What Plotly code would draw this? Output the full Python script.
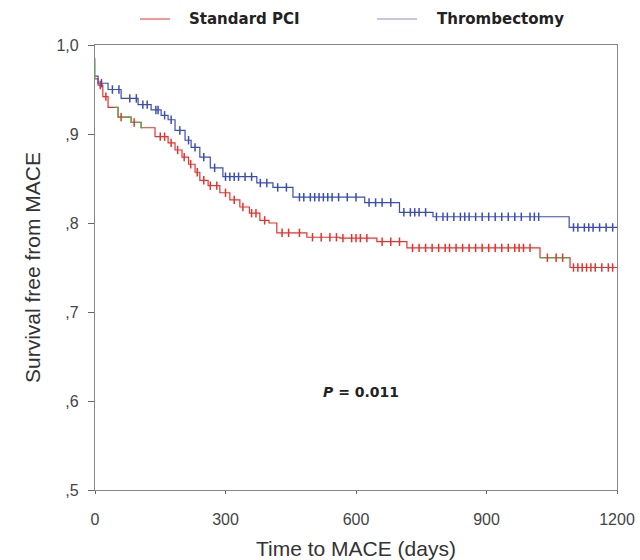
import numpy as np
import plotly.graph_objects as go

# Kaplan-Meier step data
pci_days = [0, 7, 18, 30, 53, 83, 106, 138, 168, 184, 200, 215, 230, 241, 260, 287, 310, 333, 355, 379, 400, 418, 487, 563, 648, 717, 1023, 1092, 1200]
pci_surv = [0.962, 0.955, 0.942, 0.93, 0.919, 0.913, 0.907, 0.897, 0.89, 0.882, 0.874, 0.866, 0.857, 0.848, 0.842, 0.834, 0.826, 0.818, 0.811, 0.803, 0.8, 0.789, 0.784, 0.783, 0.779, 0.772, 0.761, 0.75, 0.75]

thr_days = [0, 7, 30, 60, 99, 129, 152, 168, 184, 207, 221, 241, 265, 294, 372, 409, 455, 620, 700, 777, 1090, 1200]
thr_surv = [0.965, 0.957, 0.95, 0.94, 0.933, 0.927, 0.921, 0.916, 0.904, 0.893, 0.885, 0.874, 0.862, 0.852, 0.845, 0.84, 0.829, 0.823, 0.812, 0.807, 0.795, 0.795]

# censored observations (days)
pci_cens = [12, 25, 60, 90, 150, 160, 175, 190, 205, 220, 235, 250, 265, 280, 300, 320, 340, 360, 370, 390, 430, 445, 470, 500, 520, 540, 555, 570, 590, 600, 610, 625, 660, 680, 700, 730, 745, 760, 775, 790, 805, 815, 830, 845, 860, 875, 890, 905, 920, 935, 950, 965, 975, 985, 1000, 1040, 1060, 1075, 1100, 1110, 1120, 1130, 1140, 1150, 1165, 1180, 1190]
thr_cens = [15, 40, 55, 80, 95, 110, 120, 140, 145, 160, 175, 195, 215, 230, 250, 275, 300, 310, 320, 330, 345, 360, 380, 395, 420, 440, 470, 480, 495, 505, 515, 525, 535, 545, 560, 580, 600, 630, 645, 660, 680, 710, 725, 735, 745, 760, 785, 800, 810, 825, 840, 850, 860, 875, 890, 905, 920, 935, 950, 965, 980, 1000, 1010, 1020, 1100, 1110, 1125, 1135, 1145, 1160, 1175, 1190]

# green segments of the PCI curve (day ranges)
green_ranges = [(45, 110), (1023, 1092)]
green_start = [0.985, 0.962]

x_ticks = [0, 300, 600, 900, 1200]
y_ticks = [0.5, 0.6, 0.7, 0.8, 0.9, 1.0]
y_ticklabels = [",5", ",6", ",7", ",8", ",9", "1,0"]

RED = "#e8302c"
BLUE = "#3a4db5"
GREEN = "#4caf50"


def step_at(days, surv, t):
    idx = np.searchsorted(np.array(days), np.array(t), side="right") - 1
    return np.array(surv)[np.clip(idx, 0, len(surv) - 1)]


fig = go.Figure()

fig.add_trace(go.Scatter(x=pci_days, y=pci_surv, mode="lines", line_shape="hv",
                         line=dict(color=RED, width=1.2), name="Standard PCI", showlegend=False))
fig.add_trace(go.Scatter(x=thr_days, y=thr_surv, mode="lines", line_shape="hv",
                         line=dict(color=BLUE, width=1.2), name="Thrombectomy", showlegend=False))

# green overlay segments
gx, gy = [0, 0, None], [green_start[0], green_start[1], None]
for a, b in green_ranges:
    seg_days = [a] + [d for d in pci_days if a < d < b] + [b]
    seg_vals = list(step_at(pci_days, pci_surv, seg_days))
    seg_vals[-1] = seg_vals[-2] if len(seg_vals) > 1 else seg_vals[-1]
    gx += seg_days + [None]
    gy += seg_vals + [None]
fig.add_trace(go.Scatter(x=gx, y=gy, mode="lines", line_shape="hv",
                         line=dict(color=GREEN, width=1.2), showlegend=False, hoverinfo="skip"))

# censor marks
fig.add_trace(go.Scatter(x=pci_cens, y=step_at(pci_days, pci_surv, pci_cens), mode="markers",
                         marker=dict(symbol="line-ns", size=6, line=dict(color=RED, width=1.5)),
                         showlegend=False))
fig.add_trace(go.Scatter(x=thr_cens, y=step_at(thr_days, thr_surv, thr_cens), mode="markers",
                         marker=dict(symbol="line-ns", size=6, line=dict(color=BLUE, width=1.5)),
                         showlegend=False))

# legend drawn as shapes + text in paper coords
legend_items = [("Standard PCI", RED), ("Thrombectomy", "#8a90c8")]
legend_line_x = [(140, 170), (377, 417)]
legend_text_x = [187, 435]
W, H = 640, 560
L, R, T, B = 95, 23, 45, 70
pw, ph = W - L - R, H - T - B
LEG_Y = 19
for (label, col), (x0, x1), tx in zip(legend_items, legend_line_x, legend_text_x):
    fig.add_shape(type="line", xref="paper", yref="paper",
                  x0=(x0 - L) / pw, x1=(x1 - L) / pw,
                  y0=(H - B - LEG_Y) / ph, y1=(H - B - LEG_Y) / ph,
                  line=dict(color=col, width=1))
    fig.add_annotation(xref="paper", yref="paper", x=(tx - L) / pw, y=(H - B - LEG_Y) / ph,
                       text="<b>" + label + "</b>", showarrow=False, xanchor="left", yanchor="middle",
                       font=dict(family="DejaVu Sans", size=15, color="#222"))

fig.add_annotation(x=(361 - L) / pw * 1200, y=1.0 - (392 - T) / ph * 0.5,
                   text="<b><i>P</i> = 0.011</b>", showarrow=False,
                   font=dict(family="DejaVu Sans", size=14, color="#222"))

fig.update_layout(
    width=W, height=H,
    margin=dict(l=L, r=R, t=T, b=B, autoexpand=False),
    paper_bgcolor="white", plot_bgcolor="white",
    showlegend=False,
    font=dict(family="Liberation Sans, Arial", color="#333"),
)
fig.update_xaxes(range=[0, 1200], tickvals=x_ticks, ticktext=[str(v) for v in x_ticks],
                 automargin=False,
                 showgrid=False, zeroline=False, showline=True, linecolor="#888", linewidth=1.3,
                 mirror=True, ticks="outside", ticklen=3, tickcolor="#666",
                 ticklabelstandoff=12,
                 tickfont=dict(size=16, color="#444"),
                 title=dict(text="Time to MACE (days)", font=dict(size=21, color="#333"), standoff=13))
fig.update_yaxes(range=[0.5, 1.0], tickvals=y_ticks, ticktext=y_ticklabels,
                 automargin=False,
                 showgrid=False, zeroline=False, showline=True, linecolor="#888", linewidth=1.3,
                 mirror=True, ticks="outside", ticklen=6, tickcolor="#666",
                 ticklabelstandoff=6,
                 tickfont=dict(size=16, color="#444"),
                 title=dict(text="Survival free from MACE", font=dict(size=21, color="#333"), standoff=10))

fig.write_html("out.html")
